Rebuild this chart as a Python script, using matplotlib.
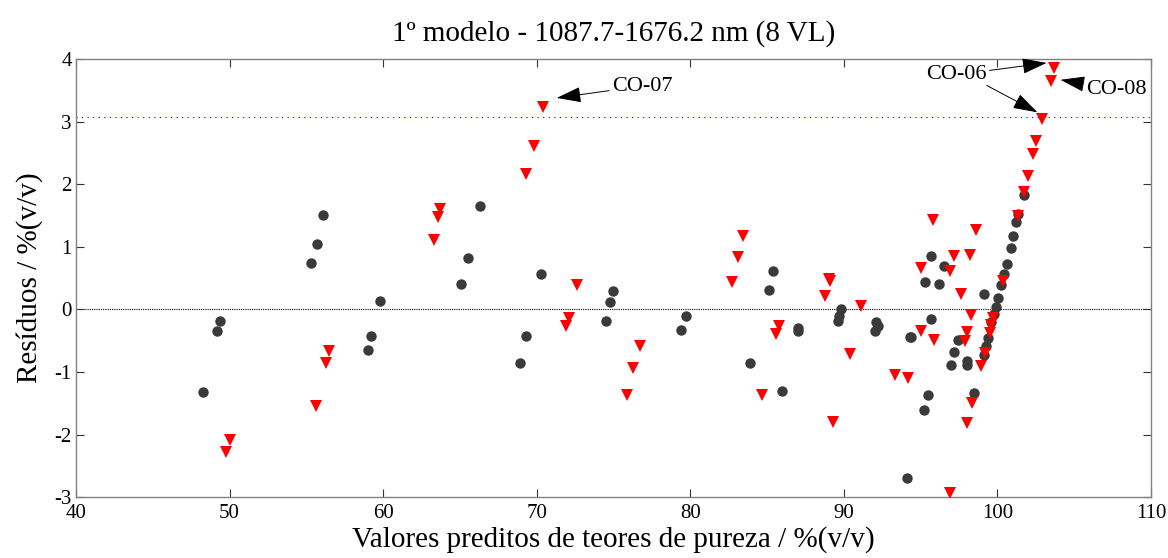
import matplotlib.pyplot as plt

plt.rcParams['font.family'] = ['Liberation Serif', 'DejaVu Serif']
plt.rcParams['axes.unicode_minus'] = False

# calibration samples (circles)
cal_x = [48.3, 49.4, 49.2, 56.1, 55.7, 55.3, 59.8, 59.2, 59.0,
         66.3, 65.5, 65.1, 70.3, 69.3, 68.9, 75.0, 74.8, 74.5, 79.7, 79.4,
         85.4, 85.1, 87.0, 87.0, 83.9, 86.0, 89.8, 89.7, 89.6, 92.1, 92.0, 92.2, 94.3,
         95.7, 96.5, 95.3, 96.2, 99.1, 95.7, 94.4, 97.4, 97.2, 97.0, 98.0, 98.0,
         95.5, 95.2, 98.5, 94.1,
         101.7, 101.35, 101.2, 101.0, 100.85, 100.6, 100.4, 100.26, 100.04, 99.9,
         99.75, 99.6, 99.4, 99.24, 99.13]
cal_y = [-1.32, -0.18, -0.35, 1.51, 1.05, 0.75, 0.14, -0.42, -0.65,
         1.66, 0.83, 0.40, 0.56, -0.42, -0.85, 0.29, 0.12, -0.19, -0.10, -0.33,
         0.62, 0.31, -0.30, -0.34, -0.86, -1.30, 0.00, -0.11, -0.19, -0.20, -0.35, -0.27, -0.44,
         0.85, 0.70, 0.44, 0.40, 0.24, -0.16, -0.44, -0.49, -0.68, -0.89, -0.82, -0.89,
         -1.37, -1.61, -1.34, -2.70,
         1.83, 1.53, 1.40, 1.18, 0.98, 0.73, 0.56, 0.39, 0.18, 0.04,
         -0.08, -0.20, -0.46, -0.59, -0.73]

# prediction samples (triangles)
pred_x = [56.5, 56.3, 55.6, 50.0, 49.8,
          70.4, 69.8, 69.3, 63.7, 63.6, 63.3, 72.6, 72.1, 71.9, 76.7, 76.3, 75.9,
          83.45, 83.1, 82.7, 85.8, 85.6, 84.7, 89.0, 89.1, 88.8, 91.1, 90.4, 89.3, 93.3, 94.2,
          95.0, 97.2, 98.2, 96.9, 97.6, 98.3, 95.0, 95.9, 98.0, 97.9, 98.35, 98.0, 96.9, 98.6, 95.8,
          100.33, 99.7, 99.6, 99.5, 99.18, 98.96,
          103.7, 103.5, 102.9, 102.54, 102.34, 102.0, 101.72, 101.35]
pred_y = [-0.66, -0.85, -1.55, -2.09, -2.28,
          3.23, 2.61, 2.16, 1.61, 1.48, 1.11, 0.39, -0.13, -0.27, -0.58, -0.94, -1.36,
          1.18, 0.84, 0.44, -0.27, -0.39, -1.36, 0.49, 0.45, 0.21, 0.06, -0.71, -1.80, -1.04, -1.10,
          0.67, 0.85, 0.87, 0.61, 0.24, -0.09, -0.35, -0.49, -0.36, -0.50, -1.49, -1.82, -2.93, 1.27, 1.43,
          0.46, -0.14, -0.25, -0.37, -0.69, -0.90,
          3.86, 3.65, 3.04, 2.69, 2.49, 2.13, 1.88, 1.50]

limit = 3.07

fig = plt.figure(figsize=(11.68, 5.58), dpi=100)
ax = fig.add_axes([0.065, 0.109, 0.9205, 0.785])

ax.axhline(0, color='black', linestyle=(0, (1, 1)), linewidth=0.8, zorder=1)
ax.axhline(limit, color='blue', linestyle=(0, (1, 4)), linewidth=0.8, zorder=1)

ax.plot(cal_x, cal_y, 'o', color='#3a3a3a', markersize=7.5, markeredgewidth=0, zorder=3)
ax.plot(pred_x, pred_y, 'v', color='red', markersize=8.5, markeredgewidth=0, zorder=3)

arrow = dict(arrowstyle='-|>,head_length=1.1,head_width=0.35', color='black',
             linewidth=0.7, mutation_scale=14, shrinkA=0, shrinkB=0)
ax.annotate('CO-07', xy=(71.3, 3.38), xytext=(74.9, 3.57), fontsize=16,
            va='center', ha='left', arrowprops=arrow)
ax.annotate('CO-06', xy=(103.2, 3.94), xytext=(99.3, 3.75), fontsize=16,
            va='center', ha='right', arrowprops=arrow)
ax.annotate('', xy=(102.6, 3.15), xytext=(99.3, 3.58), arrowprops=arrow)
ax.annotate('CO-08', xy=(104.1, 3.67), xytext=(105.75, 3.51), fontsize=16,
            va='center', ha='left', arrowprops=arrow)

ax.set_xlim(40, 110)
ax.set_ylim(-3, 4)
ax.set_xticks(range(40, 111, 10))
ax.set_yticks(range(-3, 5))
ax.tick_params(direction='in', top=True, right=True, labelsize=15, length=6,
               width=0.8, color='#333333')
ax.tick_params(axis='x', pad=5)
ax.tick_params(axis='y', pad=3)
for s in ax.spines.values():
    s.set_linewidth(1.0)
    s.set_color('#808080')

ax.set_title('1º modelo - 1087.7-1676.2 nm (8 VL)', fontsize=21, pad=13)
ax.set_xlabel('Valores preditos de teores de pureza / %(v/v)', fontsize=21, labelpad=2)
ax.set_ylabel('Resíduos / %(v/v)', fontsize=21, labelpad=8)

fig.savefig('out.png', dpi=100)
